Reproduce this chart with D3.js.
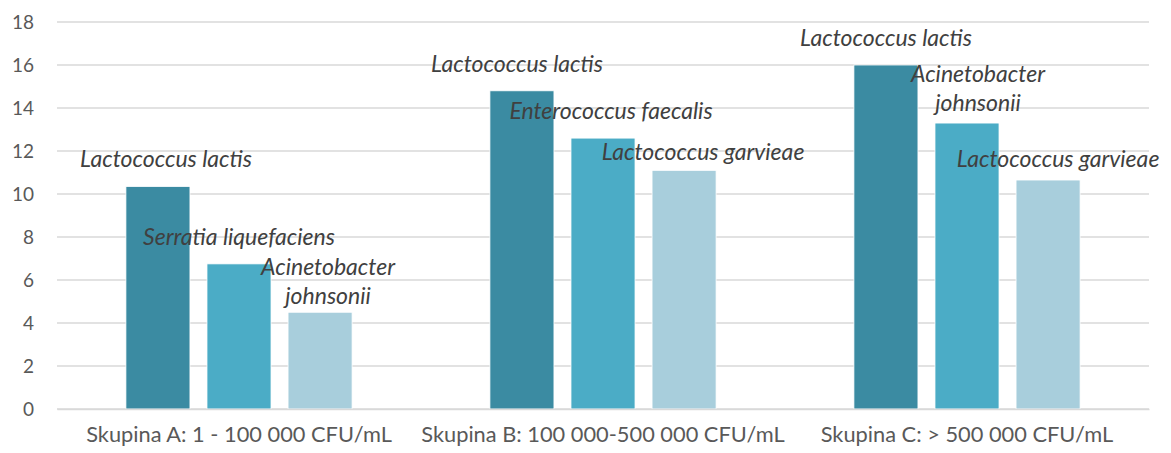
<!DOCTYPE html>
<html>
<head>
<meta charset="utf-8">
<script src="https://cdn.jsdelivr.net/npm/d3@7"></script>
<style>
  body { margin: 0; background: #fff; }
  .tick text { fill: #595959; }
</style>
</head>
<body>
<div class="chart"></div>
<script>
// data
const groups = ["Skupina A: 1 - 100 000 CFU/mL", "Skupina B: 100 000-500 000 CFU/mL", "Skupina C: > 500 000 CFU/mL"];
const series = ["s1", "s2", "s3"];
const values = [
    [10.35, 6.75, 4.5],
    [14.8, 12.6, 11.1],
    [16.0, 13.3, 10.65]
];
const labels = [
    ["Lactococcus lactis", "Serratia liquefaciens", "Acinetobacter|johnsonii"],
    ["Lactococcus lactis", "Enterococcus faecalis", "Lactococcus garvieae"],
    ["Lactococcus lactis", "Acinetobacter|johnsonii", "Lactococcus garvieae"]
];
const yTicks = [0, 2, 4, 6, 8, 10, 12, 14, 16, 18];

// label nudges (layout only), [dx, dy] from default spot above the bar
const labelNudge = [
    [[8, 0], [0, 0], [8, 11]],
    [[-5, 0], [8, 0], [19, 9]],
    [[0, 0], [11, 7], [10, 6]]
];

const colors = ["#3b8ba2", "#4bacc6", "#a8cedc"];

const margin = {top: 22, right: 22, bottom: 44, left: 57};
const width = 1171 - margin.left - margin.right,
      height = 453 - margin.top - margin.bottom;

const svg = d3.select(".chart")
    .append("svg")
    .attr("width", width + margin.left + margin.right)
    .attr("height", height + margin.top + margin.bottom)
    .append("g")
    .attr("transform", "translate(" + margin.left + "," + margin.top + ")");

const x0 = d3.scaleBand()
    .domain(groups)
    .range([0, width])
    .padding(0);

const x1 = d3.scaleBand()
    .domain(series)
    .range([0, x0.bandwidth()])
    .paddingInner(0.21)
    .paddingOuter(0.85);

const yScale = d3.scaleLinear()
    .domain([0, 18])
    .range([height, 0]);

// gridlines
svg.append("g")
    .selectAll("line")
    .data(yTicks)
    .enter()
    .append("line")
    .attr("x1", 0)
    .attr("x2", width)
    .attr("y1", d => yScale(d))
    .attr("y2", d => yScale(d))
    .attr("stroke", "#d9d9d9")
    .attr("stroke-width", 1.3);

// y axis
const yAxis = d3.axisLeft(yScale).tickValues(yTicks).tickSize(0).tickPadding(23);
svg.append("g")
    .attr("class", "axis y-axis")
    .call(yAxis)
    .call(g => g.select(".domain").remove())
    .selectAll("text")
    .attr("font-family", "Lato, sans-serif")
    .attr("font-size", 19);

// bars
const groupG = svg.selectAll(".group")
    .data(groups)
    .enter()
    .append("g")
    .attr("class", "group")
    .attr("transform", d => `translate(${x0(d)},0)`);

groupG.selectAll("rect")
    .data((d, i) => values[i].map((v, j) => ({s: series[j], v: v, j: j})))
    .enter()
    .append("rect")
    .attr("x", d => x1(d.s))
    .attr("y", d => yScale(d.v))
    .attr("width", x1.bandwidth())
    .attr("height", d => height - yScale(d.v))
    .attr("fill", d => colors[d.j])
    .attr("stroke", "#ffffff")
    .attr("stroke-width", 0.8);

// x axis
const xAxis = d3.axisBottom(x0).tickSize(0).tickPadding(18);
svg.append("g")
    .attr("class", "axis x-axis")
    .attr("transform", `translate(0, ${height})`)
    .call(xAxis)
    .call(g => g.select(".domain").attr("stroke", "#d9d9d9").attr("stroke-width", 1.3))
    .selectAll("text")
    .attr("font-family", "Lato, sans-serif")
    .attr("font-size", 21.8);

// data labels
groupG.each(function(g, gi) {
    const sel = d3.select(this);
    series.forEach((s, j) => {
        const lines = labels[gi][j].split("|");
        const nudge = labelNudge[gi][j];
        const cx = x1(s) + x1.bandwidth() / 2 + nudge[0];
        const bottomY = yScale(values[gi][j]) - 19 + nudge[1];
        const t = sel.append("text")
            .attr("text-anchor", "middle")
            .attr("font-family", "Lato, sans-serif")
            .attr("font-style", "italic")
            .attr("font-size", 23)
            .attr("fill", "#404040");
        lines.forEach((ln, k) => {
            t.append("tspan")
                .attr("x", cx)
                .attr("y", bottomY - (lines.length - 1 - k) * 29)
                .text(ln);
        });
    });
});
</script>
</body>
</html>
